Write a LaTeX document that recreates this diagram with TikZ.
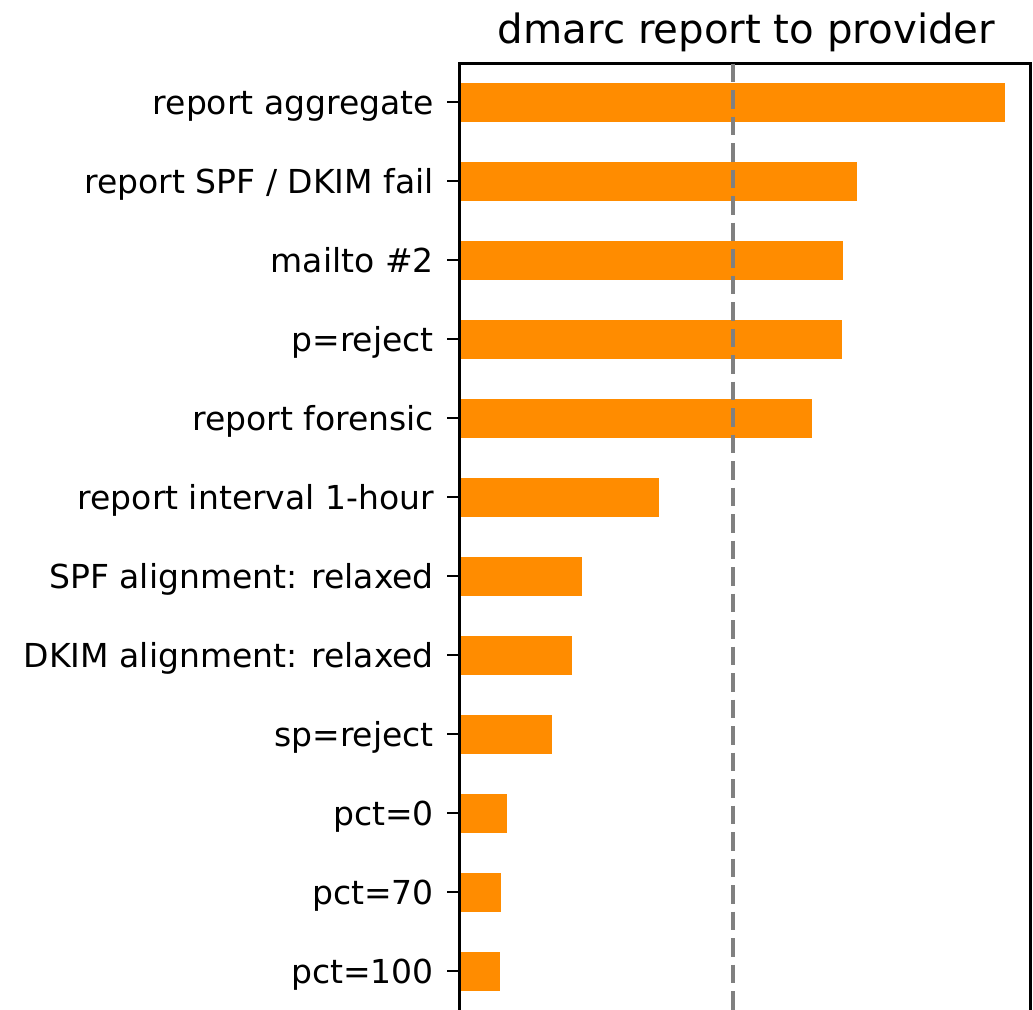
\documentclass[tikz,border=0pt]{standalone}
\usepackage{fontspec}
\setmainfont{DejaVu Sans}
\definecolor{barfill}{HTML}{FF8C00}
\definecolor{meanline}{HTML}{808080}
\begin{document}
\begin{tikzpicture}[x=1pt, y=-1pt,
    bar/.style={fill=barfill},
    spine/.style={draw=black, line width=2.6pt},
    tck/.style={draw=black, line width=2.6pt},
    lbl/.style={font=\fontsize{33}{36}\selectfont, anchor=base east, inner sep=0pt},
    ttl/.style={font=\fontsize{40.3}{44}\selectfont, anchor=base, inner sep=0pt},
    mean/.style={draw=meanline, line width=4pt, dash pattern=on 18.5pt off 8pt}
]
\useasboundingbox (0,0) rectangle (1033,1009);
\node[ttl] (title) at (746.5,43) {dmarc report to provider};
% bars, ticks and labels
\foreach \v/\t [count=\i from 0] in {1005/{report aggregate}, 857/{report SPF / DKIM fail},
    843/{mailto \#2}, 842/{p=reject}, 812/{report forensic}, 659/{report interval 1-hour},
    582/{SPF alignment: relaxed}, 572/{DKIM alignment: relaxed}, 552/{sp=reject},
    507/{pct=0}, 501/{pct=70}, 500/{pct=100}} {
  \fill[bar] (459.5,{102+79*\i-19.5}) rectangle (\v,{102+79*\i+19.5});
  \coordinate (tick\i) at (459.5,{102+79*\i});
  \draw[tck] (tick\i) -- ++(-12.5,0);
  \node[lbl] (lbl\i) at (434,{102+79*\i+12.5}) {\t};
}
\coordinate (ax0) at (459.5,1015);
\coordinate (ax1) at (459.5,63.5);
\coordinate (ax2) at (1030.5,63.5);
\coordinate (ax3) at (1030.5,1015);
\draw[spine] (ax0) -- (ax1) -- (ax2) -- (ax3);
\coordinate (m0) at (733,63.5);
\coordinate (m1) at (733,1015);
\draw[mean] (m0) -- (m1);
\end{tikzpicture}
\end{document}
